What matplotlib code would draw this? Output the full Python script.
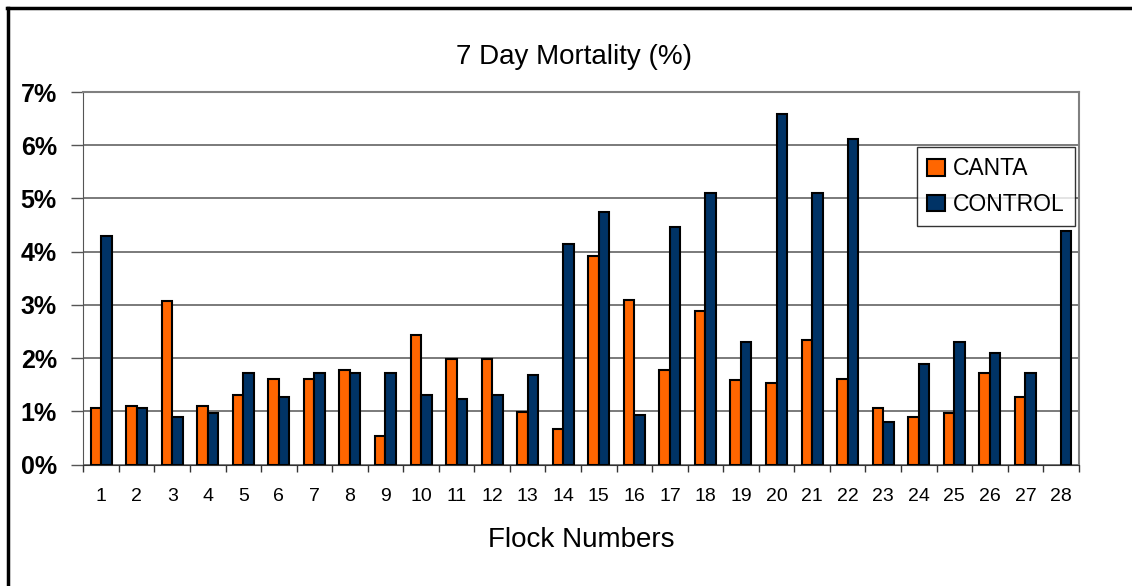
import numpy as np
import matplotlib.pyplot as plt
from matplotlib.lines import Line2D

# 7 day mortality per flock, in percent
flocks = [str(i) for i in range(1, 29)]
canta = [1.06, 1.09, 3.08, 1.09, 1.31, 1.61, 1.61, 1.78, 0.54, 2.44,
         1.99, 1.99, 0.99, 0.66, 3.91, 3.09, 1.78, 2.88, 1.58, 1.54,
         2.34, 1.61, 1.06, 0.89, 0.97, 1.72, 1.27, np.nan]
control = [4.29, 1.06, 0.89, 0.97, 1.72, 1.27, 1.72, 1.72, 1.72, 1.31,
           1.24, 1.31, 1.69, 4.15, 4.74, 0.93, 4.47, 5.11, 2.30, 6.59,
           5.11, 6.11, 0.80, 1.89, 2.30, 2.09, 1.72, 4.39]
y_ticks = [0, 1, 2, 3, 4, 5, 6, 7]

W, H = 1132, 586
plt.rcParams['font.family'] = ['Liberation Sans', 'DejaVu Sans']
fig = plt.figure(figsize=(W / 100, H / 100), dpi=100)

# plot area in pixel coords
left, right, top, bottom = 83.3, 1078.7, 92.0, 464.5
ax = fig.add_axes([left / W, (H - bottom) / H, (right - left) / W, (bottom - top) / H])

x = np.arange(len(flocks))
w = 0.295
orange = '#FF6600'
navy = '#003366'
ax.bar(x - w / 2, canta, width=w, color=orange, edgecolor='black', linewidth=1.5,
       label='CANTA', zorder=3)
ax.bar(x + w / 2, control, width=w, color=navy, edgecolor='black', linewidth=1.5,
       label='CONTROL', zorder=3)

ax.set_xlim(-0.5, len(flocks) - 0.5)
ax.set_ylim(0, 7)
ax.set_yticks(y_ticks)
ax.set_yticklabels([f'{t}%' for t in y_ticks], fontsize=18, fontweight='bold')
ax.yaxis.grid(True, color='#707070', linewidth=1.3, zorder=0)
ax.tick_params(axis='y', length=9, width=1, color='#555555', pad=10)

ax.set_xticks(x)
ax.set_xticklabels(flocks, fontsize=14)
ax.set_xticks(np.arange(-0.5, len(flocks)), minor=True)
ax.tick_params(axis='x', which='major', length=0, pad=17)
ax.tick_params(axis='x', which='minor', length=5, width=1, color='#333333')

for side in ['top', 'right']:
    ax.spines[side].set_color('#808080')
    ax.spines[side].set_linewidth(1.5)
ax.spines['left'].set_color('#555555')
ax.spines['bottom'].set_color('#333333')

leg = ax.legend(loc='upper left', bbox_to_anchor=((917 - left) / (right - left), 1 - (147 - top) / (bottom - top)),
                fontsize=16.5, frameon=True, fancybox=False, handlelength=0.75, handleheight=0.75,
                handletextpad=0.35, borderpad=0.45, labelspacing=0.55, borderaxespad=0)
leg.get_frame().set_edgecolor('black')
leg.get_frame().set_linewidth(1.0)

fig.text(574 / W, 1 - 57 / H, '7 Day Mortality (%)', fontsize=20, ha='center', va='center')
fig.text(581 / W, 1 - 540 / H, 'Flock Numbers', fontsize=20, ha='center', va='center')

# outer chart border (left and top edges)
fig.add_artist(Line2D([7.5 / W, 7.5 / W], [0, 1 - 7.5 / H], color='black', linewidth=2.5,
                      transform=fig.transFigure))
fig.add_artist(Line2D([6.5 / W, 1], [1 - 7.5 / H, 1 - 7.5 / H], color='black', linewidth=2.5,
                      transform=fig.transFigure))

fig.savefig('out.png', dpi=100)
